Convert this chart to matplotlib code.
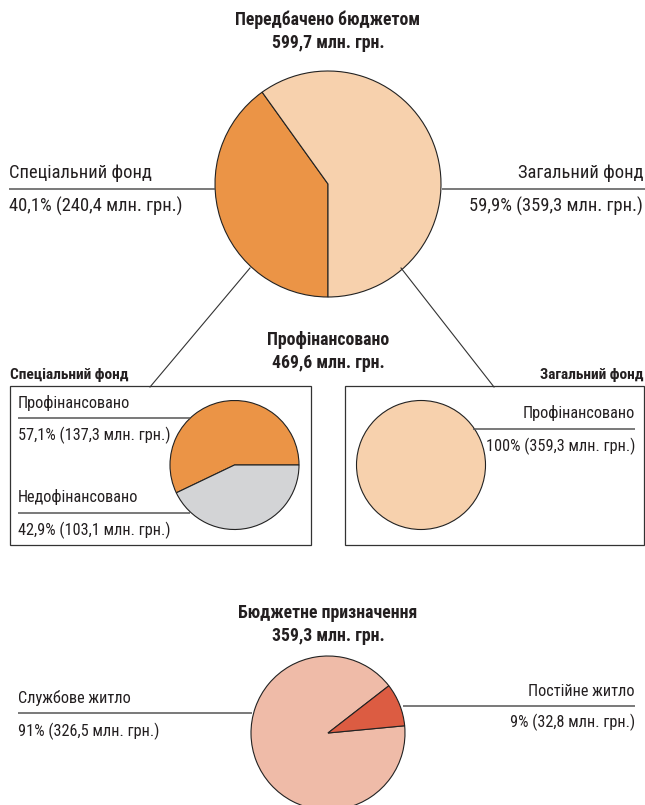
import matplotlib
matplotlib.use("Agg")
import matplotlib.pyplot as plt
from matplotlib import font_manager
from matplotlib.patches import Rectangle

names = {f.name for f in font_manager.fontManager.ttflist}
FONT = "DejaVu Sans"
for cand in ["Roboto Condensed", "PT Sans Narrow", "Fira Sans Condensed", "Fira Sans Extra Condensed"]:
    if cand in names:
        FONT = cand
        break
plt.rcParams['font.family'] = [FONT, 'DejaVu Sans']

# ---- data ----
top_labels = ["Спеціальний фонд", "Загальний фонд"]
top_values = [40.1, 59.9]
top_amounts = ["240,4", "359,3"]
top_title = ["Передбачено бюджетом", "599,7 млн. грн."]

spec_labels = ["Профінансовано", "Недофінансовано"]
spec_values = [57.1, 42.9]
spec_amounts = ["137,3", "103,1"]

gen_labels = ["Профінансовано"]
gen_values = [100]
gen_amounts = ["359,3"]
mid_title = ["Профінансовано", "469,6 млн. грн."]

bud_labels = ["Службове житло", "Постійне житло"]
bud_values = [91, 9]
bud_amounts = ["326,5", "32,8"]
bud_title = ["Бюджетне призначення", "359,3 млн. грн."]

C_ORANGE = "#EB9446"
C_PEACH = "#F7D1AD"
C_GREY = "#D3D4D6"
C_PINK = "#EFBBA8"
C_RED = "#DC5C42"

W, H = 645, 805
fig = plt.figure(figsize=(W / 100, H / 100), dpi=100)
ax = fig.add_axes([0, 0, 1, 1])

def Y(y):
    return H - y

wp = dict(edgecolor="#222222", linewidth=0.8)
TXT = "#231F20"
LINE = "#555555"

def fmt(v):
    s = f"{v:.1f}".replace(".", ",")
    if s.endswith(",0"):
        s = s[:-2]
    return s

# top pie
ax.pie(top_values, colors=[C_ORANGE, C_PEACH], startangle=270, counterclock=False,
       center=(328, Y(184)), radius=113, wedgeprops=wp, frame=True)
# middle left
ax.pie(spec_values, colors=[C_ORANGE, C_GREY], startangle=0, counterclock=True,
       center=(234.5, Y(465)), radius=64.5, wedgeprops=wp, frame=True)
# middle right
ax.pie(gen_values, colors=[C_PEACH], startangle=90,
       center=(421, Y(465)), radius=64.5, wedgeprops=wp, frame=True)
# bottom
ax.pie(bud_values, colors=[C_PINK, C_RED], startangle=37.8, counterclock=True,
       center=(328, Y(733)), radius=77, wedgeprops=wp, frame=True)

ax.set_xlim(0, W)
ax.set_ylim(0, H)
ax.set_aspect("auto")
ax.axis("off")

FS = 13.3
FSS = 11.7
FB = 12.8
FBS = 11.1

def title(lines, y):
    ax.text(328, Y(y), lines[0], ha="center", va="center", fontsize=FB, fontweight="bold", color=TXT)
    ax.text(328, Y(y + 23), lines[1], ha="center", va="center", fontsize=FB, fontweight="bold", color=TXT)

title(top_title, 20)
title(mid_title, 340)
title(bud_title, 613)

def label(x, y_name, y_line, y_val, name, val, ha, x0, x1, fs):
    ax.text(x, Y(y_name), name, ha=ha, va="center", fontsize=fs, color=TXT)
    ax.plot([x0, x1], [Y(y_line), Y(y_line)], color=LINE, lw=1.1, solid_capstyle="butt")
    ax.text(x, Y(y_val), val, ha=ha, va="center", fontsize=fs, color=TXT)

label(9, 173, 189, 206, top_labels[0], f"{fmt(top_values[0])}% ({top_amounts[0]} млн. грн.)", "left", 9, 215, FS)
label(643, 173, 189, 206, top_labels[1], f"{fmt(top_values[1])}% ({top_amounts[1]} млн. грн.)", "right", 442, 645, FS)

# connectors
ax.plot([250, 150], [Y(268), Y(387)], color="#333333", lw=0.8)
ax.plot([401, 494], [Y(268), Y(387)], color="#333333", lw=0.8)

# boxes
ax.add_patch(Rectangle((10, Y(545)), 301, 159, fill=False, edgecolor="#333333", lw=0.9))
ax.add_patch(Rectangle((345, Y(545)), 299, 159, fill=False, edgecolor="#333333", lw=0.9))
ax.text(10, Y(375), "Спеціальний фонд", ha="left", va="center", fontsize=FBS, fontweight="bold", color=TXT)
ax.text(643, Y(375), "Загальний фонд", ha="right", va="center", fontsize=FBS, fontweight="bold", color=TXT)

label(18, 403, 418, 435, spec_labels[0], f"{fmt(spec_values[0])}% ({spec_amounts[0]} млн. грн.)", "left", 18, 190, FSS)
label(18, 497, 513, 530, spec_labels[1], f"{fmt(spec_values[1])}% ({spec_amounts[1]} млн. грн.)", "left", 18, 190, FSS)
label(635, 413, 429, 446, gen_labels[0], f"{fmt(gen_values[0])}% ({gen_amounts[0]} млн. грн.)", "right", 473, 635, FSS)

label(18, 698, 713, 731, bud_labels[0], f"{fmt(bud_values[0])}% ({bud_amounts[0]} млн. грн.)", "left", 18, 252, FSS)
label(635, 691, 706, 722, bud_labels[1], f"{fmt(bud_values[1])}% ({bud_amounts[1]} млн. грн.)", "right", 403, 635, FSS)

fig.savefig("out.png", dpi=100, facecolor="white")
